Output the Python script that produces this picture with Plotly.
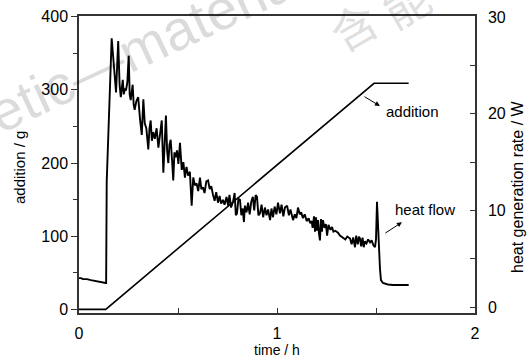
import plotly.graph_objects as go

# ---------------- data ----------------
add_t = [0.0, 0.135, 1.49, 1.665]
add_g = [0, 0, 309, 309]

heat_t = [0.0, 0.01, 0.02, 0.04, 0.06, 0.08, 0.10, 0.12, 0.135, 0.137, 0.14, 0.165,
          0.176, 0.187, 0.198, 0.205, 0.211, 0.216, 0.221, 0.226, 0.232, 0.237, 0.244,
          0.251, 0.256, 0.261, 0.266, 0.271, 0.276, 0.281, 0.29, 0.299, 0.308, 0.317,
          0.325, 0.332, 0.340, 0.350, 0.356, 0.362, 0.368, 0.375, 0.383, 0.392, 0.401,
          0.41, 0.418, 0.426, 0.432, 0.439, 0.445, 0.451, 0.457, 0.463, 0.470, 0.476,
          0.482, 0.488, 0.495, 0.502, 0.510, 0.519, 0.527, 0.535, 0.543, 0.551, 0.560,
          0.569, 0.577, 0.585, 0.594, 0.602, 0.611, 0.618, 0.626, 0.634, 0.643, 0.652,
          0.660, 0.668, 0.677, 0.685, 0.693, 0.702, 0.710, 0.718, 0.727, 0.735, 0.745,
          0.753, 0.760, 0.768, 0.778, 0.786, 0.792, 0.798, 0.805, 0.813, 0.820, 0.827,
          0.833, 0.838, 0.846, 0.854, 0.862, 0.870, 0.878, 0.885, 0.892, 0.899, 0.906,
          0.914, 0.922, 0.930, 0.939, 0.947, 0.955, 0.965, 0.972, 0.980, 0.988, 0.997,
          1.005, 1.015, 1.023, 1.032, 1.040, 1.051, 1.060, 1.068, 1.081, 1.090, 1.098,
          1.106, 1.115, 1.122, 1.131, 1.140, 1.150, 1.160, 1.167, 1.175, 1.180, 1.187,
          1.192, 1.197, 1.202, 1.207, 1.212, 1.217, 1.222, 1.227, 1.232, 1.240, 1.247,
          1.253, 1.260, 1.270, 1.278, 1.285, 1.295, 1.308, 1.318, 1.333, 1.345, 1.355,
          1.369, 1.377, 1.385, 1.394, 1.400, 1.408, 1.414, 1.419, 1.425, 1.432, 1.438,
          1.444, 1.452, 1.460, 1.470, 1.478, 1.487, 1.495, 1.500, 1.505, 1.510, 1.515,
          1.52, 1.525, 1.535, 1.56, 1.586, 1.665]
heat_w = [3.0, 3.0, 2.9, 2.9, 2.8, 2.7, 2.6, 2.55, 2.5, 2.5, 13.0, 27.8,
          24.5, 22.2, 27.5, 23.0, 21.7, 23.0, 23.5, 22.0, 22.6, 22.4, 23.2,
          26.0, 22.0, 21.4, 22.5, 23.0, 21.0, 20.4, 21.3, 21.7, 19.5, 17.8,
          21.5, 19.0, 18.5, 16.3, 18.5, 19.3, 17.2, 18.1, 17.4, 18.5, 16.5,
          18.2, 19.3, 13.9, 17.5, 19.8, 16.2, 14.9, 16.8, 17.3, 15.2, 13.1,
          16.0, 15.5, 16.2, 14.8, 17.0, 14.2, 15.0, 13.4, 14.5, 13.6, 14.0,
          10.5, 13.4, 12.6, 12.8, 12.0, 13.4, 12.2, 12.4, 11.8, 13.0, 13.1,
          12.2, 12.5, 11.6, 11.0, 11.9, 10.8, 11.5, 10.7, 11.1, 10.6, 11.4,
          10.5, 11.6, 10.3, 10.9, 11.8, 9.5, 9.7, 11.2, 11.1, 9.5, 10.2,
          8.8, 10.5, 9.8, 10.8, 9.6, 10.9, 11.4, 10.0, 11.6, 11.4, 9.5,
          9.7, 10.6, 9.3, 10.3, 9.5, 10.1, 9.0, 10.2, 9.3, 10.4, 9.6,
          10.8, 9.7, 10.6, 9.4, 10.3, 10.5, 9.5, 10.1, 9.0, 9.6, 9.2,
          10.3, 9.6, 9.8, 9.2, 9.6, 8.9, 9.2, 8.7, 8.9, 8.2, 9.4,
          7.8, 9.3, 7.9, 9.0, 7.6, 6.9, 9.1, 7.8, 9.0, 8.2, 8.6,
          7.4, 8.5, 8.0, 8.3, 7.8, 7.9, 7.7, 7.4, 7.2, 7.0, 7.3,
          7.1, 6.5, 7.2, 6.2, 7.4, 6.5, 7.3, 7.1, 6.3, 7.2, 6.2,
          6.8, 6.6, 7.0, 6.7, 6.9, 6.4, 6.2, 7.0, 10.9, 8.0, 5.9,
          4.0, 2.8, 2.5, 2.35, 2.3, 2.3]

x_ticks = [0, 1, 2]
left_ticks = [0, 100, 200, 300, 400]
right_ticks = [0, 10, 20, 30]

FONT = "Liberation Sans, Arial, sans-serif"
AXC = "#333333"

fig = go.Figure()
fig.add_trace(go.Scatter(x=add_t, y=add_g, mode="lines", name="addition",
                         line=dict(color="black", width=1.6), yaxis="y"))
fig.add_trace(go.Scatter(x=heat_t, y=heat_w, mode="lines", name="heat flow",
                         line=dict(color="black", width=1.9), yaxis="y2"))

fig.update_layout(
    width=529, height=358,
    margin=dict(l=79, r=54, t=16, b=45, autoexpand=False),
    paper_bgcolor="white", plot_bgcolor="white",
    showlegend=False,
    font=dict(family=FONT, size=16, color="black"),
    xaxis=dict(range=[0, 2], tickvals=x_ticks, ticks="inside", ticklen=5,
               tickcolor=AXC, showline=True, linecolor=AXC, linewidth=1.5,
               mirror=True, showgrid=False, zeroline=False, automargin=False,
               minor=dict(tickvals=[0.5, 1.5], ticks="inside", ticklen=5, tickcolor=AXC),
               ticklabelstandoff=5),
    yaxis=dict(range=[-5, 401], tickvals=left_ticks, ticks="outside", ticklen=6,
               tickcolor=AXC, showline=True, linecolor=AXC, linewidth=1.5,
               showgrid=False, zeroline=False, automargin=False,
               minor=dict(tickvals=[50, 150, 250, 350], ticks="outside", ticklen=4,
                          tickcolor=AXC)),
    yaxis2=dict(range=[-0.6, 30.1], tickvals=right_ticks, ticks="inside", ticklen=5,
                tickcolor=AXC, showline=True, linecolor=AXC, linewidth=1.5,
                overlaying="y", side="right", showgrid=False, zeroline=False,
                automargin=False,
                minor=dict(tickvals=[5, 15, 25], ticks="inside", ticklen=5, tickcolor=AXC),
                ticklabelstandoff=8),
)

ann = []
# axis titles
ann.append(dict(text="time / h", xref="paper", yref="paper", x=0.5, y=-27 / 297,
                xanchor="center", yanchor="top", showarrow=False,
                font=dict(family=FONT, size=14)))
ann.append(dict(text="addition / g", xref="paper", yref="paper",
                x=(19 - 79) / 396, y=(313 - 168) / 297, textangle=-90,
                xanchor="center", yanchor="middle", showarrow=False,
                font=dict(family=FONT, size=15)))
ann.append(dict(text="heat generation rate / W", xref="paper", yref="paper",
                x=(518 - 79) / 396, y=(313 - 187) / 297, textangle=-90,
                xanchor="center", yanchor="middle", showarrow=False,
                font=dict(family=FONT, size=16)))
# labels and arrows
ann.append(dict(text="addition", x=1.682, y=271, xref="x", yref="y",
                showarrow=False, font=dict(family=FONT, size=15)))
ann.append(dict(text="", x=1.520, y=278, xref="x", yref="y", ax=1.434, ay=292,
                axref="x", ayref="y", showarrow=True, arrowhead=2, arrowsize=1,
                arrowwidth=1, arrowcolor="black", standoff=0))
ann.append(dict(text="heat flow", x=1.747, y=137, xref="x", yref="y",
                showarrow=False, font=dict(family=FONT, size=15)))
ann.append(dict(text="", x=1.631, y=119, xref="x", yref="y", ax=1.540, ay=103,
                axref="x", ayref="y", showarrow=True, arrowhead=2, arrowsize=1,
                arrowwidth=1, arrowcolor="black", standoff=0))
# faint watermark
ann.append(dict(text="energetic\u2014materials", xref="paper", yref="paper",
                x=(95 - 79) / 396, y=(313 - 68) / 297, textangle=-25,
                showarrow=False, xanchor="center", yanchor="middle",
                font=dict(family="Liberation Sans, Arial, sans-serif", size=56,
                          color="rgba(0,0,0,0.14)")))
ann.append(dict(text="\u542b", xref="paper", yref="paper",
                x=(353 - 79) / 396, y=(313 - 25) / 297, textangle=-30,
                showarrow=False, xanchor="center", yanchor="middle",
                font=dict(family="Noto Sans CJK SC", size=46, color="rgba(0,0,0,0.14)")))
ann.append(dict(text="\u80fd", xref="paper", yref="paper",
                x=(405 - 79) / 396, y=(313 - 2) / 297, textangle=-30,
                showarrow=False, xanchor="center", yanchor="middle",
                font=dict(family="Noto Sans CJK SC", size=46, color="rgba(0,0,0,0.14)")))
fig.update_layout(annotations=ann)

fig.write_html("out.html", config={"displayModeBar": False},
               post_script="document.body.style.margin='0';document.body.style.overflow='hidden';")
